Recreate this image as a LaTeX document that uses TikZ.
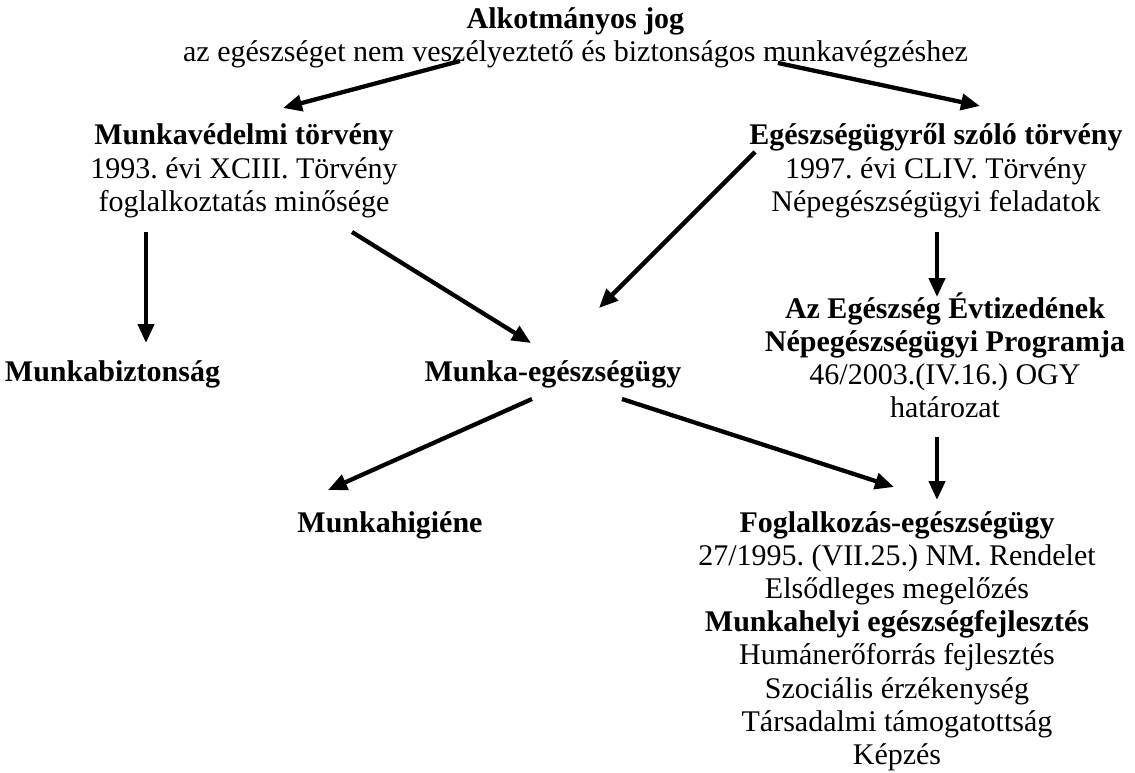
\documentclass[tikz,border=0pt]{standalone}
\usepackage{fontspec}
\setmainfont{Liberation Serif}
\usetikzlibrary{arrows.meta}
\frenchspacing
\newcommand\blk[1]{\vtop{\lineskiplimit=-\maxdimen\halign{\hfil##\hfil\cr#1\crcr}}}
\begin{document}
\begin{tikzpicture}[x=1pt,y=-1pt,
  txt/.style={inner sep=0pt, anchor=base, font=\fontsize{30}{33.2}\selectfont},
  arr/.style={line width=4.3pt, -{Triangle[length=19pt,width=16pt]}}]
\useasboundingbox (0,0) rectangle (1135,773);
\node[txt] (t) at (575.5,28.5) {\blk{\textbf{Alkotmányos jog}\cr az egészséget nem veszélyeztető és biztonságos munkavégzéshez}};
\node[txt] (mv) at (244,145) {\blk{\textbf{Munkavédelmi törvény}\cr 1993. évi XCIII. Törvény\cr foglalkoztatás minősége}};
\node[txt] (eu) at (936,145) {\blk{\textbf{Egészségügyről szóló törvény}\cr 1997. évi CLIV. Törvény\cr Népegészségügyi feladatok}};
\node[txt] (mb) at (112.5,381) {\textbf{Munkabiztonság}};
\node[txt] (me) at (553,381) {\textbf{Munka-egészségügy}};
\node[txt] (az) at (945,318) {\blk{\textbf{Az Egészség Évtizedének}\cr \textbf{Népegészségügyi Programja}\cr 46/2003.(IV.16.) OGY\cr határozat}};
\node[txt] (mh) at (390,532) {\textbf{Munkahigiéne}};
\node[txt] (fo) at (897,532) {\blk{\textbf{Foglalkozás-egészségügy}\cr 27/1995. (VII.25.) NM. Rendelet\cr Elsődleges megelőzés\cr \textbf{Munkahelyi egészségfejlesztés}\cr Humánerőforrás fejlesztés\cr Szociális érzékenység\cr Társadalmi támogatottság\cr Képzés}};
\draw[arr] ([shift={(-115.5,32.5)}]t.base) -- ([shift={(39,-37)}]mv.base);
\draw[arr] ([shift={(202.5,34.5)}]t.base) -- ([shift={(44,-39)}]eu.base);
\draw[arr] ([shift={(-98,87)}]mv.base) -- ([shift={(33.5,-38)}]mb.base);
\draw[arr] ([shift={(108,87)}]mv.base) -- ([shift={(-22,-38)}]me.base);
\draw[arr] ([shift={(-181,7)}]eu.base) -- ([shift={(46,-73)}]me.base);
\draw[arr] ([shift={(1,87)}]eu.base) -- ([shift={(-8,-21)}]az.base);
\draw[arr] ([shift={(-21,18)}]me.base) -- ([shift={(-62,-42)}]mh.base);
\draw[arr] ([shift={(69,18)}]me.base) -- ([shift={(-3,-45)}]fo.base);
\draw[arr] ([shift={(-8,119)}]az.base) -- ([shift={(40,-32)}]fo.base);
\end{tikzpicture}
\end{document}
